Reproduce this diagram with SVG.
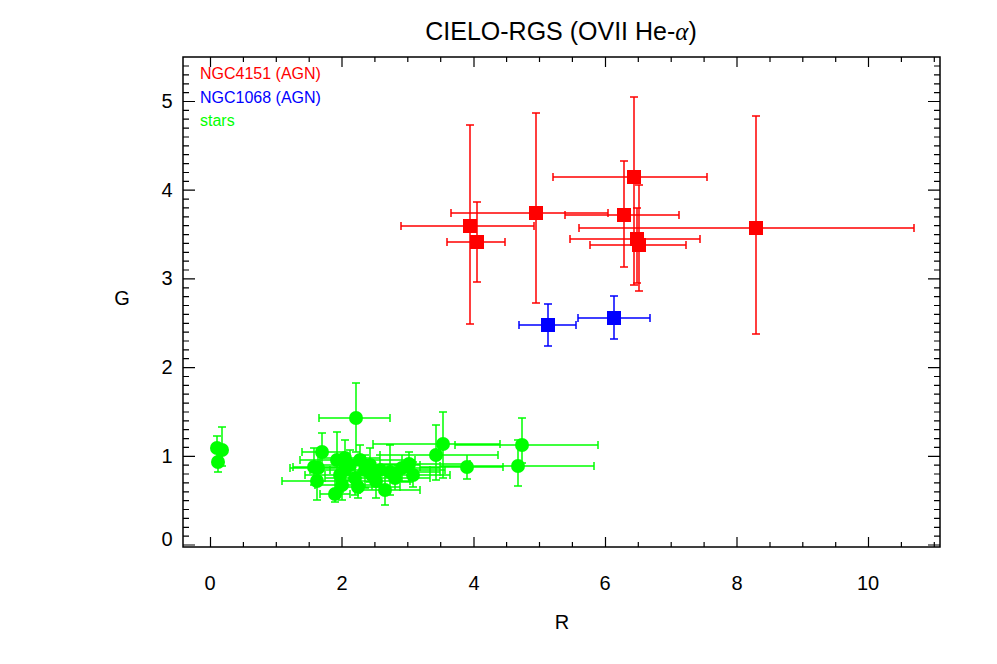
<svg xmlns="http://www.w3.org/2000/svg" width="997" height="664" viewBox="0 0 997 664">
<style>
text{font-family:"Liberation Sans",Arial,sans-serif;fill:#000}
.tl{font-size:20px;text-anchor:middle}
.ax{fill:none;stroke:#000;stroke-width:1.5}
.tk{stroke:#000;stroke-width:1.2}
.er{fill:none;stroke-width:1.5}
.r{stroke:#f00}.b{stroke:#00f}.g{stroke:#0f0}
</style>
<rect width="997" height="664" fill="#fff"/>
<g id="axes">
<rect class="ax" x="183" y="57" width="757" height="490"/>
<path class="tk" d="M210.5 547v-10M342 547v-10M474 547v-10M605.5 547v-10M737 547v-10M868.5 547v-10M210.5 57v10M342 57v10M474 57v10M605.5 57v10M737 57v10M868.5 57v10
M243.4 547v-5M276.3 547v-5M309.2 547v-5M374.9 547v-5M407.8 547v-5M440.7 547v-5M506.6 547v-5M539.5 547v-5M572.4 547v-5M638.3 547v-5M671.2 547v-5M704.1 547v-5M770 547v-5M802.8 547v-5M835.7 547v-5M901.4 547v-5M934.3 547v-5
M243.4 57v5M276.3 57v5M309.2 57v5M374.9 57v5M407.8 57v5M440.7 57v5M506.6 57v5M539.5 57v5M572.4 57v5M638.3 57v5M671.2 57v5M704.1 57v5M770 57v5M802.8 57v5M835.7 57v5M901.4 57v5M934.3 57v5
M183 545h12M183 456.3h12M183 367.6h12M183 278.9h12M183 190.2h12M183 101.5h12M940 545h-12M940 456.3h-12M940 367.6h-12M940 278.9h-12M940 190.2h-12M940 101.5h-12"/>
<path class="tk" d="M183 536.1h6M183 527.3h6M183 518.4h6M183 509.5h6M183 500.7h6M183 491.8h6M183 482.9h6M183 474h6M183 465.2h6
M183 447.4h6M183 438.6h6M183 429.7h6M183 420.8h6M183 412h6M183 403.1h6M183 394.2h6M183 385.3h6M183 376.5h6
M183 358.7h6M183 349.9h6M183 341h6M183 332.1h6M183 323.3h6M183 314.4h6M183 305.5h6M183 296.6h6M183 287.8h6
M183 270h6M183 261.2h6M183 252.3h6M183 243.4h6M183 234.6h6M183 225.7h6M183 216.8h6M183 207.9h6M183 199.1h6
M183 181.3h6M183 172.5h6M183 163.6h6M183 154.7h6M183 145.9h6M183 137h6M183 128.1h6M183 119.2h6M183 110.4h6
M183 92.6h6M183 83.8h6M183 74.9h6M183 66h6
M940 536.1h-6M940 527.3h-6M940 518.4h-6M940 509.5h-6M940 500.7h-6M940 491.8h-6M940 482.9h-6M940 474h-6M940 465.2h-6
M940 447.4h-6M940 438.6h-6M940 429.7h-6M940 420.8h-6M940 412h-6M940 403.1h-6M940 394.2h-6M940 385.3h-6M940 376.5h-6
M940 358.7h-6M940 349.9h-6M940 341h-6M940 332.1h-6M940 323.3h-6M940 314.4h-6M940 305.5h-6M940 296.6h-6M940 287.8h-6
M940 270h-6M940 261.2h-6M940 252.3h-6M940 243.4h-6M940 234.6h-6M940 225.7h-6M940 216.8h-6M940 207.9h-6M940 199.1h-6
M940 181.3h-6M940 172.5h-6M940 163.6h-6M940 154.7h-6M940 145.9h-6M940 137h-6M940 128.1h-6M940 119.2h-6M940 110.4h-6
M940 92.6h-6M940 83.8h-6M940 74.9h-6M940 66h-6"/>
<text class="tl" x="210" y="590">0</text><text class="tl" x="342" y="590">2</text><text class="tl" x="474" y="590">4</text><text class="tl" x="605" y="590">6</text><text class="tl" x="737" y="590">8</text><text class="tl" x="868" y="590">10</text>
<text class="tl" x="167" y="546">0</text><text class="tl" x="167" y="463">1</text><text class="tl" x="167" y="374">2</text><text class="tl" x="167" y="285">3</text><text class="tl" x="167" y="197">4</text><text class="tl" x="167" y="108">5</text>
<text class="tl" x="562" y="629">R</text>
<text class="tl" x="122" y="305">G</text>
<text x="561" y="40" font-size="25" text-anchor="middle">CIELO-RGS (OVII He-<tspan font-family="'Liberation Serif',serif" font-style="italic">α</tspan>)</text>
</g>
<g id="legend" font-size="16">
<text x="200" y="79" style="fill:#f00">NGC4151 (AGN)</text>
<text x="200" y="103" style="fill:#00f">NGC1068 (AGN)</text>
<text x="200" y="126" style="fill:#0f0">stars</text>
</g>
<g id="stars">
<path class="er g" d="M213 448H221M213 444v8M221 444v8M217 436V462M213 436h8M213 462h8
M218 450H226M218 446v8M226 446v8M222 427V466M218 427h8M218 466h8
M214 462H222M214 458v8M222 458v8M218 452V472M214 452h8M214 472h8
M319 418H390M319 414v8M390 414v8M356 383V452M352 383h8M352 452h8
M302 452H345M302 448v8M345 448v8M322 433V470M318 433h8M318 470h8
M300 460H370M300 456v8M370 456v8M337 432V490M333 432h8M333 490h8
M293 467H340M293 463v8M340 463v8M314 448V485M310 448h8M310 485h8
M282 481H352M282 477v8M352 477v8M317 462V500M313 462h8M313 500h8
M320 494H350M320 490v8M350 490v8M335 478V502M331 478h8M331 502h8
M335 487H400M335 483v8M400 483v8M358 470V498M354 470h8M354 498h8
M340 465H420M340 461v8M420 461v8M370 448V482M366 448h8M366 482h8
M345 481H410M345 477v8M410 477v8M376 465V498M372 465h8M372 498h8
M355 472H440M355 468v8M440 468v8M390 445V495M386 445h8M386 495h8
M380 464H470M380 460v8M470 460v8M409 452V482M405 452h8M405 482h8
M390 475H450M390 471v8M450 471v8M413 462V487M409 462h8M409 487h8
M380 455H498M380 451v8M498 451v8M436 425V480M432 425h8M432 480h8
M373 444H500M373 440v8M500 440v8M443 412V478M439 412h8M439 478h8
M420 467H503M420 463v8M503 463v8M467 455V479M463 455h8M463 479h8
M455 445H598M455 441v8M598 441v8M522 418V463M518 418h8M518 463h8
M440 466H594M440 462v8M594 462v8M518 440V486M514 440h8M514 486h8
M310 470H400M310 466v8M400 466v8M345 455V485M341 455h8M341 485h8
M305 475H380M305 471v8M380 471v8M340 460V492M336 460h8M336 492h8
M320 465H410M320 461v8M410 461v8M350 450V480M346 450h8M346 480h8
M330 470H430M330 466v8M430 466v8M365 455V488M361 455h8M361 488h8
M325 475H450M325 471v8M450 471v8M372 460V490M368 460h8M368 490h8
M350 470H445M350 466v8M445 466v8M380 455V485M376 455h8M376 485h8
M315 485H380M315 481v8M380 481v8M342 470V500M338 470h8M338 500h8
M360 478H430M360 474v8M430 474v8M395 465V490M391 465h8M391 490h8
M360 490H420M360 486v8M420 486v8M385 475V505M381 475h8M381 505h8
M325 478H395M325 474v8M395 474v8M355 462V495M351 462h8M351 495h8
M370 468H440M370 464v8M440 464v8M402 455V482M398 455h8M398 482h8
M320 458H380M320 454v8M380 454v8M345 440V475M341 440h8M341 475h8
M290 468H350M290 464v8M350 464v8M318 452V485M314 452h8M314 485h8
M335 460H415M335 456v8M415 456v8M360 445V478M356 445h8M356 478h8"/>
<g fill="#0f0">
<circle cx="217" cy="448" r="7"/><circle cx="222" cy="450" r="7"/><circle cx="218" cy="462" r="7"/>
<circle cx="356" cy="418" r="7"/><circle cx="322" cy="452" r="7"/><circle cx="337" cy="460" r="7"/><circle cx="314" cy="467" r="7"/>
<circle cx="317" cy="481" r="7"/><circle cx="335" cy="494" r="7"/><circle cx="358" cy="487" r="7"/><circle cx="370" cy="465" r="7"/>
<circle cx="376" cy="481" r="7"/><circle cx="390" cy="472" r="7"/><circle cx="409" cy="464" r="7"/><circle cx="413" cy="475" r="7"/>
<circle cx="436" cy="455" r="7"/><circle cx="443" cy="444" r="7"/><circle cx="467" cy="467" r="7"/><circle cx="522" cy="445" r="7"/>
<circle cx="518" cy="466" r="7"/><circle cx="345" cy="470" r="7"/><circle cx="340" cy="475" r="7"/><circle cx="350" cy="465" r="7"/>
<circle cx="365" cy="470" r="7"/><circle cx="372" cy="475" r="7"/><circle cx="380" cy="470" r="7"/><circle cx="342" cy="485" r="7"/>
<circle cx="395" cy="478" r="7"/><circle cx="385" cy="490" r="7"/><circle cx="355" cy="478" r="7"/><circle cx="402" cy="468" r="7"/>
<circle cx="345" cy="458" r="7"/><circle cx="318" cy="468" r="7"/><circle cx="360" cy="460" r="7"/>
</g>
</g>
<g id="ngc4151">
<path class="er r" d="M401 226H534M401 222v8M534 222v8M470 125V324M466 125h8M466 324h8
M447 242H505M447 238v8M505 238v8M477 202V282M473 202h8M473 282h8
M451 213H608M451 209v8M608 209v8M536 113V303M532 113h8M532 303h8
M553 177H707M553 173v8M707 173v8M634 97V285M630 97h8M630 285h8
M565 215H679M565 211v8M679 211v8M624 161V267M620 161h8M620 267h8
M570 239H700M570 235v8M700 235v8M637 208V283M633 208h8M633 283h8
M590 245H686M590 241v8M686 241v8M639 185V291M635 185h8M635 291h8
M579 228H914M579 224v8M914 224v8M756 116V334M752 116h8M752 334h8"/>
<g fill="#f00">
<rect x="463" y="219" width="14" height="14"/><rect x="470" y="235" width="14" height="14"/><rect x="529" y="206" width="14" height="14"/>
<rect x="627" y="170" width="14" height="14"/><rect x="617" y="208" width="14" height="14"/><rect x="630" y="232" width="14" height="14"/>
<rect x="632" y="238" width="14" height="14"/><rect x="749" y="221" width="14" height="14"/>
</g>
</g>
<g id="ngc1068">
<path class="er b" d="M519 325H576M519 321v8M576 321v8M548 304V346M544 304h8M544 346h8
M578 318H650M578 314v8M650 314v8M614 296V339M610 296h8M610 339h8"/>
<g fill="#00f"><rect x="541" y="318" width="14" height="14"/><rect x="607" y="311" width="14" height="14"/></g>
</g>
</svg>
